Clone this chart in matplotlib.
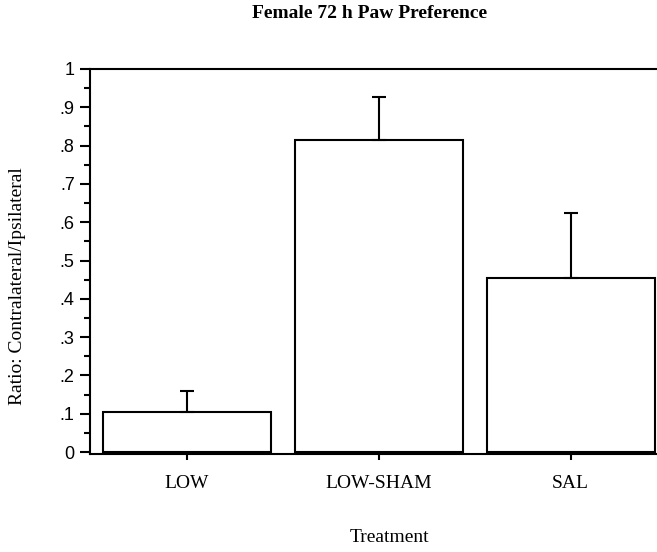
import matplotlib
matplotlib.use("Agg")
import matplotlib.pyplot as plt
from matplotlib.ticker import MultipleLocator, FuncFormatter

treatments = ["LOW", "LOW-SHAM", "SAL"]
means = [0.104, 0.815, 0.454]
errors = [0.056, 0.113, 0.170]
y_ticks = [0, 0.1, 0.2, 0.3, 0.4, 0.5, 0.6, 0.7, 0.8, 0.9, 1.0]

serif = "Liberation Serif"
sans = "Liberation Sans"

fig = plt.figure(figsize=(6.57, 5.52), dpi=100)
ax = fig.add_axes([90 / 657, 1 - 454 / 552, 567 / 657, 385 / 552])

x = range(len(treatments))
ax.bar(x, means, width=0.875, color="white", edgecolor="black", linewidth=1.5,
       zorder=2)
ax.errorbar(x, means, yerr=[[0] * 3, errors], fmt="none", ecolor="black",
            elinewidth=1.5, capsize=5, capthick=1.5, zorder=3)

ax.set_xlim(-0.505, 2.45)
ax.set_ylim(-0.005, 1.0)
ax.set_yticks(y_ticks)
ax.yaxis.set_minor_locator(MultipleLocator(0.05))


def fmt(v, pos):
    if abs(v) < 1e-9:
        return "0"
    if abs(v - 1) < 1e-9:
        return "1"
    return ("%.1f" % v)[1:]


ax.yaxis.set_major_formatter(FuncFormatter(fmt))
ax.set_xticks(list(x))
ax.set_xticklabels(treatments, fontfamily=serif, fontsize=14)
for lab in ax.get_yticklabels():
    lab.set_fontfamily(sans)
    lab.set_fontsize(13)

ax.spines["right"].set_visible(False)
for s in ["left", "bottom", "top"]:
    ax.spines[s].set_linewidth(1.5)
ax.tick_params(axis="y", which="major", length=7, width=1.5, pad=4)
ax.tick_params(axis="y", which="minor", length=4, width=1.5)
ax.tick_params(axis="x", which="major", length=4, width=1.5, direction="out",
               pad=11)

fig.text(18 / 657, 1 - 286 / 552, "Ratio: Contralateral/Ipsilateral",
         fontfamily=serif, fontsize=14, rotation=90, ha="center", va="center")
fig.text(389 / 657, 1 - 537 / 552, "Treatment", fontfamily=serif,
         fontsize=14, ha="center", va="center")
fig.text(370 / 657, 1 - 14 / 552, "Female 72 h Paw Preference",
         fontfamily=serif, fontweight="bold", fontsize=14, ha="center",
         va="center")

fig.savefig("out.png", dpi=100)
